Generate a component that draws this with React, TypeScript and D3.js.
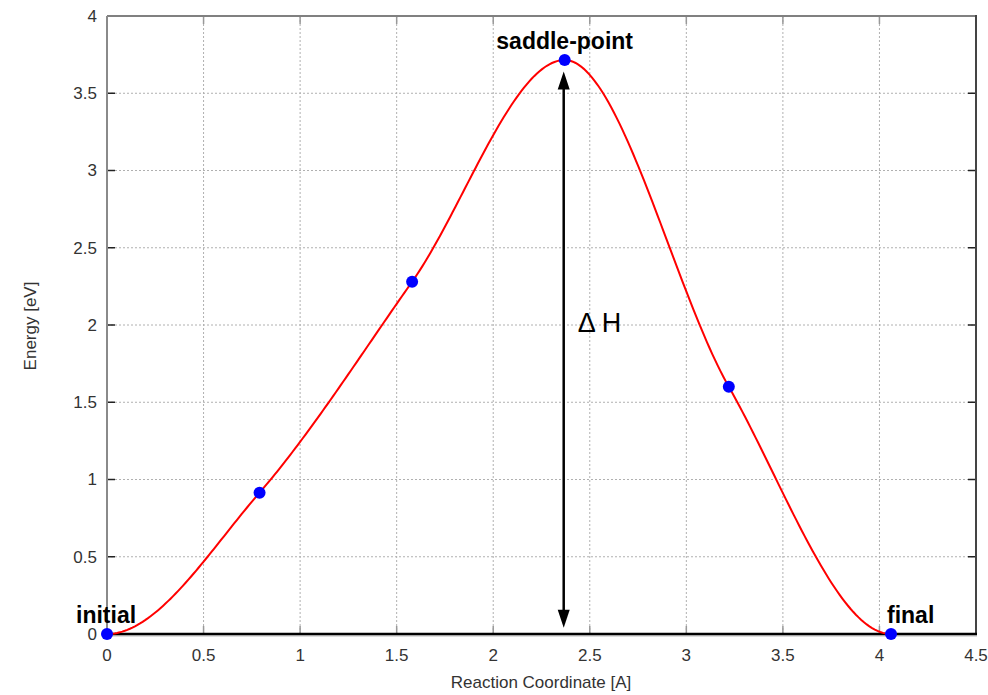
import React from "react";
import * as d3 from "d3";

const xValues = [0, 0.79, 1.58, 2.37, 3.22, 4.06];
const yValues = [0, 0.915, 2.28, 3.715, 1.6, 0];
const xTicks = [0, 0.5, 1, 1.5, 2, 2.5, 3, 3.5, 4, 4.5];
const yTicks = [0, 0.5, 1, 1.5, 2, 2.5, 3, 3.5, 4];
const labels = [
  { text: "initial", x: 0, y: 0 },
  { text: "saddle-point", x: 2.37, y: 3.715 },
  { text: "final", x: 4.06, y: 0 },
];
const arrowX = 2.365;
const arrowFrom = 0.04;
const arrowTo = 3.64;

const W = 988, H = 695;
const L = 107, R = 976, T = 16, B = 634;

function tangents(xs: number[], ys: number[]): number[] {
  const n = xs.length;
  const m = new Array(n).fill(0);
  for (let i = 1; i < n - 1; i++) {
    const h0 = xs[i] - xs[i - 1], h1 = xs[i + 1] - xs[i];
    const s0 = (ys[i] - ys[i - 1]) / h0, s1 = (ys[i + 1] - ys[i]) / h1;
    const p = (s0 * h1 + s1 * h0) / (h0 + h1);
    m[i] = (Math.sign(s0) + Math.sign(s1)) * Math.min(Math.abs(s0), Math.abs(s1), 0.5 * Math.abs(p));
  }
  return m;
}

export default function App() {
  const x = d3.scaleLinear().domain([0, 4.5]).range([L, R]);
  const y = d3.scaleLinear().domain([0, 4]).range([B, T]);
  const m = tangents(xValues, yValues);
  const samples: [number, number][] = [];
  for (let i = 0; i < xValues.length - 1; i++) {
    const x0 = xValues[i], x1 = xValues[i + 1], y0 = yValues[i], y1 = yValues[i + 1];
    const h = x1 - x0;
    const N = 60;
    for (let k = 0; k <= N; k++) {
      if (i > 0 && k === 0) continue;
      const t = k / N;
      const h00 = 2 * t ** 3 - 3 * t ** 2 + 1;
      const h10 = t ** 3 - 2 * t ** 2 + t;
      const h01 = -2 * t ** 3 + 3 * t ** 2;
      const h11 = t ** 3 - t ** 2;
      samples.push([x0 + t * h, h00 * y0 + h10 * h * m[i] + h01 * y1 + h11 * h * m[i + 1]]);
    }
  }
  const line = d3.line<[number, number]>().x((d) => x(d[0])).y((d) => y(d[1]));
  const font = "'Liberation Sans', Arial, sans-serif";
  const ax = x(arrowX);
  const yTop = y(arrowTo), yBot = y(arrowFrom);
  const hw = 6, hl = 18;

  return (
    <svg width={W} height={H} style={{ position: "absolute", left: 0, top: 0, background: "#fff" }} fontFamily={font}>
      {/* grid */}
      {xTicks.filter((v) => v > 0 && v < 4.5).map((v) => (
        <line key={"gx" + v} x1={x(v)} x2={x(v)} y1={T} y2={B} stroke="#b0b0b0" strokeWidth={1} strokeDasharray="2,2" />
      ))}
      {yTicks.filter((v) => v > 0 && v < 4).map((v) => (
        <line key={"gy" + v} x1={L} x2={R} y1={y(v)} y2={y(v)} stroke="#b0b0b0" strokeWidth={1} strokeDasharray="2,2" />
      ))}
      {/* ticks */}
      {yTicks.map((v) => (
        <g key={"ty" + v}>
          <line x1={L} x2={L + 8} y1={y(v)} y2={y(v)} stroke="#222" strokeWidth={1.5} />
          <line x1={R - 8} x2={R} y1={y(v)} y2={y(v)} stroke="#222" strokeWidth={1.5} />
          <text x={97} y={y(v)} dy="0.35em" textAnchor="end" fontSize={17} fill="#333">{v}</text>
        </g>
      ))}
      {xTicks.map((v) => (
        <g key={"tx" + v}>
          <line x1={x(v)} x2={x(v)} y1={B} y2={B - 8} stroke="#999" strokeWidth={1.5} />
          <line x1={x(v)} x2={x(v)} y1={T} y2={T + 8} stroke="#999" strokeWidth={1.5} />
          <text x={x(v)} y={661} textAnchor="middle" fontSize={17} fill="#333">{v}</text>
        </g>
      ))}
      {/* frame */}
      <line x1={L} x2={R} y1={T} y2={T} stroke="#808080" strokeWidth={2} />
      <line x1={L} x2={L} y1={T} y2={B} stroke="#8a8a8a" strokeWidth={2} />
      <line x1={R} x2={R} y1={T - 1} y2={B} stroke="#444" strokeWidth={2} />
      <line x1={L} x2={R + 1} y1={B + 2} y2={B + 2} stroke="#ddd" strokeWidth={2} />
      <line x1={L} x2={R + 1} y1={B} y2={B} stroke="#000" strokeWidth={2.5} />
      {/* axis titles */}
      <text x={541} y={688} textAnchor="middle" fontSize={17} fill="#333">Reaction Coordinate [A]</text>
      <text transform={`translate(36,${326}) rotate(-90)`} textAnchor="middle" fontSize={17} fill="#333">Energy [eV]</text>
      {/* curve */}
      <path d={line(samples) || ""} fill="none" stroke="#ff0000" strokeWidth={2} />
      {/* arrow */}
      <line x1={ax} x2={ax} y1={yTop + hl - 2} y2={yBot - hl + 2} stroke="#000" strokeWidth={2.5} />
      <path d={`M${ax},${yTop} L${ax - hw},${yTop + hl} L${ax + hw},${yTop + hl} Z`} fill="#000" />
      <path d={`M${ax},${yBot} L${ax - hw},${yBot - hl} L${ax + hw},${yBot - hl} Z`} fill="#000" />
      <text x={ax + 14} y={332} fontSize={27} fill="#000">Δ H</text>
      {/* points */}
      {xValues.map((v, i) => (
        <circle key={"p" + i} cx={x(v)} cy={y(yValues[i])} r={6} fill="#0000ff" />
      ))}
      {/* labels */}
      <text x={x(labels[0].x) - 31} y={623} fontSize={23} fontWeight="bold" fill="#000">{labels[0].text}</text>
      <text x={x(labels[1].x)} y={49} textAnchor="middle" fontSize={23} fontWeight="bold" fill="#000">{labels[1].text}</text>
      <text x={x(labels[2].x) - 4} y={623} fontSize={23} fontWeight="bold" fill="#000">{labels[2].text}</text>
    </svg>
  );
}
